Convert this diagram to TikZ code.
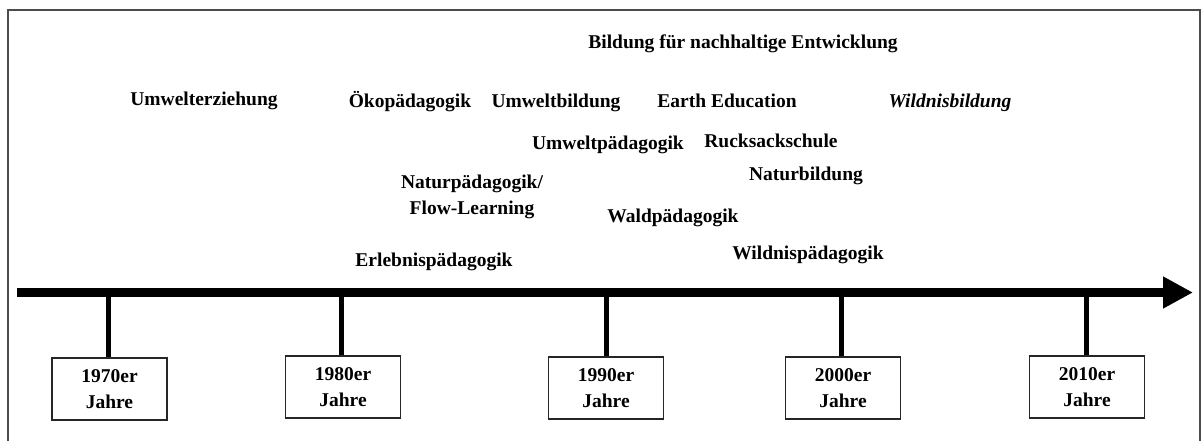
\documentclass[tikz,border=0pt]{standalone}
\usepackage{fontspec}
\setmainfont{Liberation Serif}
\usetikzlibrary{arrows.meta}
\begin{document}
\begin{tikzpicture}[x=1pt, y=-1pt,
    term/.style={font=\fontsize{19.5}{26}\selectfont\bfseries, inner sep=0pt, align=center, anchor=base},
    decade/.style={draw=black!85, line width=1.2pt, minimum width=115pt, minimum height=62pt, inner sep=0pt, align=center, font=\fontsize{19.5}{26}\selectfont\bfseries},
    axis/.style={line width=9.5pt, -{Triangle[length=30pt, width=30pt]}},
    stem/.style={line width=5pt}
]
\useasboundingbox (0,0) rectangle (1201,441);

\draw[line width=1.2pt, black!70] (8,441) -- (8,10) -- (1200,10) -- (1200,441);

\coordinate (S) at (17,292.5);
\coordinate (E) at (1193,292.5);
\draw[axis] (S) -- (E);

\foreach \t/\bx/\by/\yr in {108/109.5/389/1970, 341/343/387/1980, 606/606/388/1990, 841/843/388/2000, 1086/1087/387/2010} {
  \node[decade] (Y\yr) at (\bx,\by) {\yr er\\Jahre};
  \coordinate (T\yr) at (\t,292.5);
  \draw[stem] (T\yr) -- (T\yr |- Y\yr.north);
}

\node[term] (BNE) at (743,49) {Bildung für nachhaltige Entwicklung};
\node[term] (UE) at (204,106) {Umwelterziehung};
\node[term] (OEP) at (410,107) {Ökopädagogik};
\node[term] (UB) at (556,108) {Umweltbildung};
\node[term] (EE) at (727,108) {Earth Education};
\node[term] (WB) at (950,108) {\itshape Wildnisbildung};
\node[term] (UP) at (608,149) {Umweltpädagogik};
\node[term] (RS) at (771,147) {Rucksackschule};
\node[term] (NB) at (806,180) {Naturbildung};
\node[term] (NP) at (472,214) {Naturpädagogik/\\Flow-Learning};
\node[term] (WP) at (673,222) {Waldpädagogik};
\node[term] (WiP) at (808,259) {Wildnispädagogik};
\node[term] (EP) at (434,266) {Erlebnispädagogik};

\end{tikzpicture}
\end{document}
